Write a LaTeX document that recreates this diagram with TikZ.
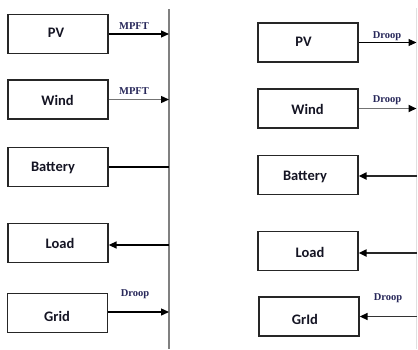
\documentclass[tikz,border=0pt]{standalone}
\usepackage{fontspec}
\setmainfont{Carlito}
\newfontfamily\lblfont{Liberation Serif}
\usetikzlibrary{arrows.meta}
\definecolor{lblblue}{RGB}{40,40,90}
\definecolor{boxtext}{RGB}{20,20,35}
\begin{document}
\begin{tikzpicture}[x=1pt,y=-1pt,
  blk/.style={draw=black!85,line width=1.3pt,minimum width=100pt,minimum height=39pt,inner sep=0pt},
  blktxt/.style={font=\fontsize{14.5}{16}\selectfont\bfseries,text=boxtext},
  conn/.style={line width=1.1pt,draw=black},
  grayconn/.style={line width=1.3pt,draw=black!55},
  thickconn/.style={line width=2pt,draw=black!85},
  tip/.style={-{Triangle[length=8pt,width=7pt,color=black]}},
  tipl/.style={{Triangle[length=8pt,width=7pt,color=black]}-},
  ctrl/.style={font=\lblfont\fontsize{10.5}{11}\selectfont\bfseries,text=lblblue,inner sep=0pt}]
\useasboundingbox (0,0) rectangle (418,349);
% buses
\coordinate (busL) at (169,0);
\coordinate (busR) at (416.5,0);
\draw[draw=black!50,line width=2pt] (169,9) -- (169,349);
\draw[draw=black!12,line width=1pt] (416.5,8) -- (416.5,349);
% left boxes
\node[blk] (lpv) at (58,34) {};
\node[blktxt] at (56,33) {PV};
\node[blk] (lwind) at (58,99.5) {};
\node[blktxt] at (57.5,100) {Wind};
\node[blk] (lbat) at (58,167) {};
\node[blktxt] at (53,168) {Battery};
\node[blk] (lload) at (58,243) {};
\node[blktxt] at (60,243) {Load};
\node[blk] (lgrid) at (57.5,313) {};
\node[blktxt] at (57,316) {Grid};
% left connectors
\draw[conn,tip] (lpv.east) -- (lpv.east -| busL);
\draw[grayconn,tip] (lwind.east) -- (lwind.east -| busL);
\draw[conn] (lbat.east) -- (lbat.east -| busL);
\draw[conn,line width=1.4pt,tipl] ([yshift=-2pt]lload.east) -- ([yshift=-2pt]lload.east -| busL);
\draw[conn,line width=1.4pt,tip] ([yshift=1pt]lgrid.east) -- ([yshift=1pt]lgrid.east -| busL);
\node[ctrl] (m1) at (134,26) {MPFT};
\node[ctrl] (m2) at (134,91.5) {MPFT};
\node[ctrl] (d1) at (135,294) {Droop};
% right boxes
\node[blk] (rpv) at (308,42.5) {};
\node[blktxt] at (303.5,42) {PV};
\node[blk] (rwind) at (308,108.5) {};
\node[blktxt] at (307.5,109) {Wind};
\node[blk] (rbat) at (308,175) {};
\node[blktxt] at (305,177) {Battery};
\node[blk] (rload) at (308,251) {};
\node[blktxt] at (310,252) {Load};
\node[blk] (rgrid) at (309,316.5) {};
\node[blktxt] at (305,319) {GrId};
% right connectors
\draw[conn,tip] (rpv.east) -- (rpv.east -| busR);
\draw[grayconn,line width=1.8pt,tip] (rwind.east) -- (rwind.east -| busR);
\draw[thickconn,tipl] ([yshift=-1pt]rbat.east) -- ([yshift=-1pt]rbat.east -| busR);
\draw[thickconn,tipl] ([yshift=-2pt]rload.east) -- ([yshift=-2pt]rload.east -| busR);
\draw[conn,line width=1.5pt,draw=black!80,tipl] (rgrid.east) -- (rgrid.east -| busR);
\node[ctrl] (d2) at (387,36) {Droop};
\node[ctrl] (d3) at (387,100) {Droop};
\node[ctrl] (d4) at (388,298) {Droop};
\end{tikzpicture}
\end{document}
